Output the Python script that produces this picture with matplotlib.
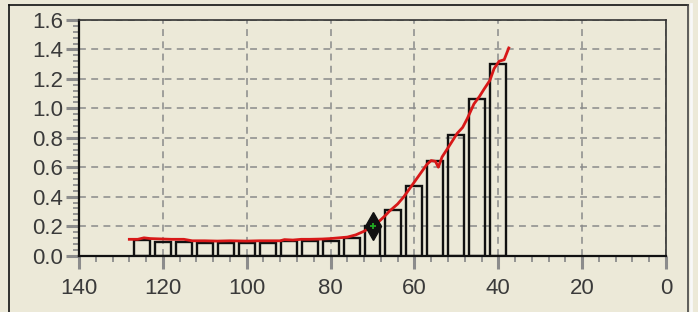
import matplotlib
matplotlib.use("Agg")
import matplotlib.pyplot as plt
from matplotlib.ticker import AutoMinorLocator
from matplotlib.lines import Line2D

# ---- data ----
bar_x = [125, 120, 115, 110, 105, 100, 95, 90, 85, 80, 75, 70, 65, 60, 55, 50, 45, 40]
bar_h = [0.105, 0.095, 0.095, 0.088, 0.088, 0.088, 0.088, 0.098, 0.098, 0.10, 0.116, 0.20,
         0.309, 0.472, 0.642, 0.819, 1.063, 1.299]

curve_x = [128, 126, 124.5, 123, 120, 118, 115, 113, 110, 107, 104, 100, 97, 94, 92, 91, 89,
           87, 85, 82, 80, 78, 76, 74, 72, 70, 68.5, 67, 66, 64, 62.5, 61.5, 60, 58.5, 57,
           56, 55, 54.3, 53.4, 51.8, 49.8, 48.5, 47.4, 45.8, 44.5, 43.4, 42, 41, 39.8, 38.6, 37.5]
curve_y = [0.11, 0.11, 0.12, 0.115, 0.112, 0.11, 0.11, 0.10, 0.10, 0.098, 0.10, 0.098, 0.10,
           0.10, 0.10, 0.108, 0.105, 0.11, 0.11, 0.112, 0.115, 0.12, 0.125, 0.14, 0.165, 0.20,
           0.23, 0.27, 0.30, 0.35, 0.40, 0.44, 0.50, 0.56, 0.62, 0.645, 0.64, 0.60, 0.67, 0.74,
           0.83, 0.87, 0.93, 1.03, 1.08, 1.13, 1.19, 1.27, 1.32, 1.33, 1.41]

marker_x = [70]
marker_y = [0.20]

x_ticks = [140, 120, 100, 80, 60, 40, 20, 0]
y_ticks = [0.0, 0.2, 0.4, 0.6, 0.8, 1.0, 1.2, 1.4, 1.6]

# ---- style ----
BG = "#ECE9D8"
plt.rcParams['font.family'] = ['Liberation Sans', 'DejaVu Sans']

fig = plt.figure(figsize=(6.98, 3.12), dpi=100, facecolor=BG)
ax = fig.add_axes([79/698, 1 - 255.5/312, (666 - 79)/698, (255.5 - 20)/312])
ax.set_facecolor(BG)

ax.set_xlim(140, 0)
ax.set_ylim(0, 1.6)
ax.set_xticks(x_ticks)
ax.set_yticks(y_ticks)
ax.set_xticklabels([str(v) for v in x_ticks])
ax.set_yticklabels([f"{v:.1f}" for v in y_ticks])
ax.xaxis.set_minor_locator(AutoMinorLocator(5))
ax.yaxis.set_minor_locator(AutoMinorLocator(5))

ax.tick_params(axis='both', which='major', direction='out', length=9.5, width=2.2,
               color='#8c8c8c', labelsize=16, labelcolor='#3a3a3a')
ax.tick_params(axis='x', which='major', pad=7)
ax.tick_params(axis='y', which='major', pad=2)
ax.tick_params(axis='both', which='minor', direction='out', length=4.5, width=1.3,
               color='#8c8c8c')

ax.grid(True, which='major', color='#8a8a8a', linestyle=(0, (4.5, 3.5)), linewidth=1.1)
ax.set_axisbelow(True)

for s in ['left', 'bottom']:
    ax.spines[s].set_color('#111111')
    ax.spines[s].set_linewidth(1.6)
for s in ['top', 'right']:
    ax.spines[s].set_color('#333333')
    ax.spines[s].set_linewidth(1.2)

ax.bar(bar_x, bar_h, width=3.8, fill=False, edgecolor='#111111', linewidth=1.7, zorder=3)
ax.plot(curve_x, curve_y, color='#d81818', linewidth=2.0, zorder=4)
ax.plot(marker_x, marker_y, marker='d', markersize=14, color='#111111', linestyle='none', zorder=5)
ax.plot(marker_x, marker_y, marker='+', markersize=5, color='#22aa22', markeredgewidth=1.3,
        linestyle='none', zorder=6)

# panel border
fig.add_artist(Line2D([9/698, 9/698], [0, 1 - 5/312], transform=fig.transFigure,
                      color='#111111', linewidth=1.2))
fig.add_artist(Line2D([9/698, 688/698], [1 - 5/312, 1 - 5/312], transform=fig.transFigure,
                      color='#111111', linewidth=1.2))
fig.add_artist(Line2D([688/698, 688/698], [0, 1 - 5/312], transform=fig.transFigure,
                      color='#444444', linewidth=1.2))
fig.add_artist(Line2D([690.5/698, 690.5/698], [0, 1 - 4/312], transform=fig.transFigure,
                      color='#f8f8f8', linewidth=2.0))

fig.savefig("out.png", dpi=100, facecolor=BG)
